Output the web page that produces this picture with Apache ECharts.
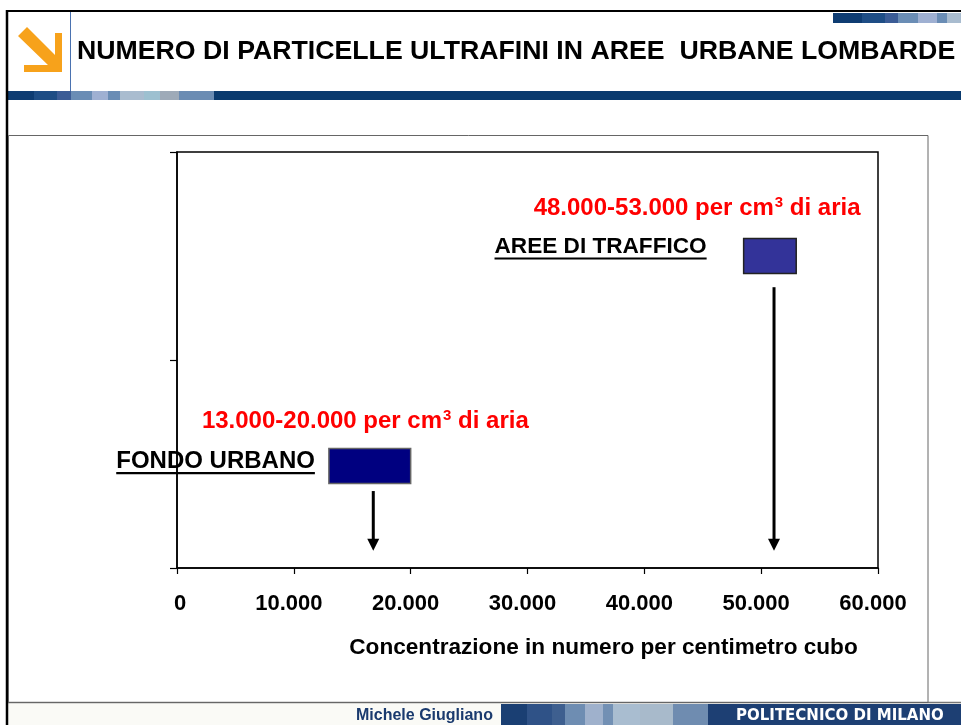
<!DOCTYPE html>
<html>
<head>
<meta charset="utf-8">
<script src="https://cdn.jsdelivr.net/npm/echarts@6/dist/echarts.min.js"></script>
<style>
  html, body { margin: 0; padding: 0; background: #fff; }
  #chart { width: 961px; height: 725px; }
</style>
</head>
<body>
<div id="chart"></div>
<script>
// dati
var categories = ["FONDO URBANO", "AREE DI TRAFFICO"];
var rangeLow = [13000, 48500];
var rangeHigh = [20000, 53000];
var yLevel = [0.49, 1.5];
var rangeLabels = ["13.000-20.000 per cm", "48.000-53.000 per cm"];
var arrowX = [16800, 51100];
var arrowTop = [0.37, 1.35];
var arrowTip = [0.083, 0.083];
var xTicks = [0, 10000, 20000, 30000, 40000, 50000, 60000];

var boxColors = ["#000080", "#333399"];
var boxBorders = ["#666666", "#222222"];
// offset in pixel delle etichette rispetto al rettangolo
var labelOffsets = [
  { name: [-14, 12.5], range: [-127, -27], nameSize: 24 },
  { name: [-37, 8], range: [-210, -30], nameSize: 22.6 },
];

var FONT = "'Liberation Sans', Arial, sans-serif";

var measureCtx = document.createElement("canvas").getContext("2d");
function textWidth(str, size) {
  measureCtx.font = "bold " + size + "px " + FONT;
  return measureCtx.measureText(str).width;
}

var data = [];
for (var i = 0; i < categories.length; i++) {
  data.push([rangeLow[i], rangeHigh[i], yLevel[i], arrowX[i], arrowTop[i], arrowTip[i]]);
}

function renderItem(params, api) {
  var i = params.dataIndex;
  var c = api.coord([api.value(0), api.value(2)]);
  var c2 = api.coord([api.value(1), api.value(2)]);
  var h = 35;
  var left = c[0], top = c[1] - h / 2, w = c2[0] - c[0];
  var off = labelOffsets[i];

  var a1 = api.coord([api.value(3), api.value(4)]);
  var a2 = api.coord([api.value(3), api.value(5)]);
  var headH = 12, headW = 12;

  var nameW = textWidth(categories[i], off.nameSize);
  var nameRight = left + off.name[0];
  var nameY = top + off.name[1];

  return {
    type: "group",
    children: [
      {
        type: "rect",
        shape: { x: left, y: top, width: w, height: h },
        style: { fill: boxColors[i], stroke: boxBorders[i], lineWidth: 1.5 },
      },
      {
        type: "line",
        shape: { x1: a1[0], y1: a1[1], x2: a2[0], y2: a2[1] - headH + 1 },
        style: { stroke: "#000", lineWidth: 3 },
      },
      {
        type: "polygon",
        shape: {
          points: [
            [a2[0] - headW / 2, a2[1] - headH],
            [a2[0] + headW / 2, a2[1] - headH],
            [a2[0], a2[1]],
          ],
        },
        style: { fill: "#000" },
      },
      {
        type: "text",
        x: nameRight,
        y: nameY,
        style: {
          text: categories[i],
          fill: "#000",
          font: "bold " + off.nameSize + "px " + FONT,
          align: "right",
          verticalAlign: "middle",
        },
      },
      {
        type: "line",
        shape: { x1: nameRight - nameW, y1: nameY + 12, x2: nameRight, y2: nameY + 12 },
        style: { stroke: "#000", lineWidth: 2.2 },
      },
      {
        type: "text",
        x: left + off.range[0],
        y: top + off.range[1],
        style: {
          text: "{a|" + rangeLabels[i] + "}{s|3}{a| di aria}",
          align: "left",
          verticalAlign: "middle",
          rich: {
            a: { fill: "#ff0000", font: "bold 24px " + FONT },
            s: { fill: "#ff0000", font: "bold 15px " + FONT, padding: [0, 0, 12, 1] },
          },
        },
      },
    ],
  };
}

// cornice della slide
var headerSegs = [
  [8, 34, "#0e3c72"], [34, 57, "#1e4d85"], [57, 71, "#3b5c96"], [71, 92, "#6a8db5"],
  [92, 108, "#9fb0d2"], [108, 120, "#6a8db5"], [120, 144, "#a9bccf"], [144, 160, "#9dc0d0"],
  [160, 179, "#9eaab8"], [179, 214, "#6b8cb3"], [214, 961, "#0a3a6e"],
];
var cornerSegs = [
  [833, 862, "#0e3c72"], [862, 885, "#1e4d85"], [885, 898, "#3b5c96"], [898, 918, "#6a8db5"],
  [918, 937, "#9fb0d2"], [937, 947, "#6a8db5"], [947, 961, "#a9bccf"],
];
var footerSegs = [
  [501, 527, "#1a3f73"], [527, 552, "#2f5287"], [552, 565, "#3e5f8f"], [565, 585, "#6e8db2"],
  [585, 603, "#9fb1cc"], [603, 613, "#7290b4"], [613, 640, "#a9bdd0"], [640, 673, "#a8bacb"],
  [673, 708, "#6f8cb0"], [708, 961, "#1d3f73"],
];

var graphics = [];
function addSegs(segs, y, h) {
  segs.forEach(function (s) {
    graphics.push({
      type: "rect",
      shape: { x: s[0], y: y, width: s[1] - s[0], height: h },
      style: { fill: s[2] },
      silent: true,
    });
  });
}
addSegs(headerSegs, 91, 9);
addSegs(cornerSegs, 13, 10);
graphics.push(
  { type: "rect", shape: { x: 8, y: 703, width: 953, height: 22 }, style: { fill: "#fafaf6" } },
  { type: "line", shape: { x1: 8, y1: 702.5, x2: 961, y2: 702.5 }, style: { stroke: "#777", lineWidth: 1.5 } }
);
addSegs(footerSegs, 704, 21);
graphics.push(
  { type: "line", shape: { x1: 7, y1: 11, x2: 961, y2: 11 }, style: { stroke: "#000", lineWidth: 2 } },
  { type: "line", shape: { x1: 7, y1: 10, x2: 7, y2: 725 }, style: { stroke: "#000", lineWidth: 2.5 } },
  { type: "line", shape: { x1: 70.5, y1: 12, x2: 70.5, y2: 91 }, style: { stroke: "#4a72b0", lineWidth: 1 } },
  {
    type: "polygon",
    shape: {
      points: [[27, 27], [55, 55], [55, 33], [62, 33], [62, 72], [24, 72], [24, 65], [48, 65], [18, 36]],
    },
    style: { fill: "#f7a21b" },
  },
  {
    type: "text",
    x: 77,
    y: 52,
    style: {
      text: "NUMERO DI PARTICELLE ULTRAFINI IN AREE  URBANE LOMBARDE",
      fill: "#000",
      font: "bold 26.7px " + FONT,
      verticalAlign: "middle",
    },
  },
  {
    type: "rect",
    shape: { x: 8.5, y: 135.5, width: 919.5, height: 567 },
    style: { fill: "none", stroke: "#666", lineWidth: 1 },
  },
  {
    type: "text",
    x: 356,
    y: 716,
    style: { text: "Michele Giugliano", fill: "#1a3a6e", font: "bold 16px " + FONT, verticalAlign: "middle" },
  },
  {
    type: "text",
    x: 736,
    y: 716,
    style: {
      text: "POLITECNICO DI MILANO",
      fill: "#fff",
      font: "bold 15px 'DejaVu Sans', sans-serif",
      verticalAlign: "middle",
    },
  }
);

var chart = echarts.init(document.getElementById("chart"));
var option = {
  animation: false,
  backgroundColor: "#fff",
  grid: {
    left: 177,
    right: 83,
    top: 152,
    bottom: 157,
    show: true,
    borderColor: "#000",
    borderWidth: 1.5,
  },
  xAxis: {
    type: "value",
    min: 0,
    max: 60000,
    interval: 10000,
    name: "Concentrazione in numero per centimetro cubo",
    nameLocation: "middle",
    nameGap: 68,
    nameTextStyle: {
      color: "#000",
      fontSize: 22.6,
      fontWeight: "bold",
      fontFamily: FONT,
      padding: [0, 0, 0, 152],
    },
    axisLine: { lineStyle: { color: "#000", width: 1.5 } },
    axisTick: { length: 6, lineStyle: { color: "#000", width: 1.2 } },
    splitLine: { show: false },
    axisLabel: {
      color: "#000",
      fontSize: 22,
      fontWeight: "bold",
      fontFamily: FONT,
      margin: 25,
      formatter: function (v) {
        if (xTicks.indexOf(v) < 0) return "";
        if (v === 0) return "{z|0}";
        return "{n|" + String(v).replace(/\B(?=(\d{3})+(?!\d))/g, ".") + "}";
      },
      rich: {
        z: { fontSize: 22, fontWeight: "bold", fontFamily: FONT, color: "#000", padding: [0, 0, 0, 6] },
        n: { fontSize: 22, fontWeight: "bold", fontFamily: FONT, color: "#000", padding: [0, 10, 0, 0] },
      },
    },
  },
  yAxis: {
    type: "value",
    min: 0,
    max: 2,
    interval: 1,
    axisLine: { show: true, lineStyle: { color: "#000", width: 1.5 } },
    axisTick: { show: true, length: 7, lineStyle: { color: "#000", width: 1.2 } },
    axisLabel: { show: false },
    splitLine: { show: false },
  },
  series: [
    {
      type: "custom",
      renderItem: renderItem,
      encode: { x: [0, 1, 3], y: [2, 4, 5] },
      data: data,
      clip: false,
    },
  ],
  graphic: graphics,
};
chart.setOption(option);
</script>
</body>
</html>
